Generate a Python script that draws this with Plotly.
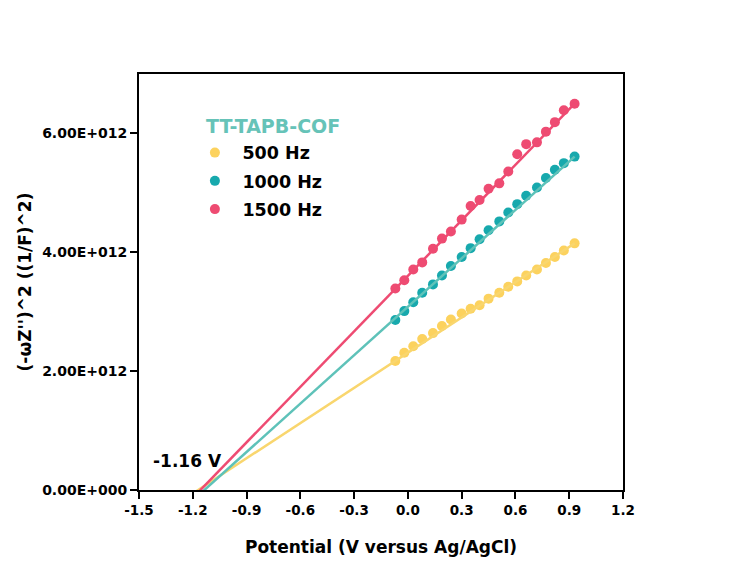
import plotly.graph_objects as go

# Potential (V vs Ag/AgCl)
potential = [-0.07, -0.02, 0.03, 0.08, 0.14, 0.19, 0.24, 0.30, 0.35, 0.40,
             0.45, 0.51, 0.56, 0.61, 0.66, 0.72, 0.77, 0.82, 0.87, 0.93]

# (-wZ'')^2 values in units of 1E12
y_500 = [2.17, 2.31, 2.42, 2.54, 2.64, 2.76, 2.87, 2.97, 3.05, 3.11,
         3.22, 3.32, 3.42, 3.51, 3.61, 3.71, 3.82, 3.92, 4.03, 4.15]
y_1000 = [2.86, 3.01, 3.16, 3.32, 3.46, 3.61, 3.77, 3.92, 4.07, 4.22,
          4.37, 4.52, 4.67, 4.81, 4.95, 5.09, 5.25, 5.39, 5.50, 5.61]
y_1500 = [3.39, 3.53, 3.71, 3.83, 4.06, 4.23, 4.35, 4.55, 4.78, 4.88,
          5.07, 5.16, 5.36, 5.65, 5.82, 5.85, 6.03, 6.19, 6.39, 6.50]

# linear fit line endpoints (x, y in 1E12)
fit_x_500 = [-1.18, 0.93]
fit_y_500 = [-0.02, 4.15]
fit_x_1000 = [-1.15, 0.93]
fit_y_1000 = [-0.04, 5.61]
fit_x_1500 = [-1.17, 0.93]
fit_y_1500 = [-0.04, 6.50]

series_names = ["500 Hz", "1000 Hz", "1500 Hz"]
legend_title = "TT-TAPB-COF"
x_ticks = [-1.5, -1.2, -0.9, -0.6, -0.3, 0.0, 0.3, 0.6, 0.9, 1.2]
x_tick_text = ["-1.5", "-1.2", "-0.9", "-0.6", "-0.3", "0.0", "0.3", "0.6", "0.9", "1.2"]
y_ticks = [0, 2, 4, 6]
y_tick_text = ["0.00E+000", "2.00E+012", "4.00E+012", "6.00E+012"]

SCALE = 1e12
marker_colors = ["#FCD25E", "#17A9AD", "#EE4B72"]
line_colors = ["#F9D66E", "#5EC2B9", "#EE4B72"]
FONT = "'DejaVu Sans', Arial, sans-serif"

fig = go.Figure()
ys = [y_500, y_1000, y_1500]
fits = [(fit_x_500, fit_y_500), (fit_x_1000, fit_y_1000), (fit_x_1500, fit_y_1500)]

for name, y, c in zip(series_names, ys, marker_colors):
    fig.add_trace(go.Scatter(
        x=potential, y=[v * SCALE for v in y], mode="markers", name=name,
        legendgroup=name,
        marker=dict(color=c, size=10, line=dict(width=0)),
    ))
for (fx, fy), c in zip(fits, line_colors):
    fig.add_trace(go.Scatter(
        x=fx, y=[v * SCALE for v in fy], mode="lines", showlegend=False,
        line=dict(color=c, width=2.5), hoverinfo="skip",
    ))

axis_common = dict(
    showline=True, linecolor="black", linewidth=2, mirror=True,
    ticks="outside", ticklen=7, tickwidth=2, tickcolor="black",
    showgrid=False, zeroline=False,
)

fig.update_xaxes(
    range=[-1.5, 1.2], tickvals=x_ticks, ticktext=x_tick_text,
    tickfont=dict(family=FONT, size=13.5, color="black", weight="bold"),
    title=dict(text="Potential (V versus Ag/AgCl)", standoff=24,
               font=dict(family=FONT, size=17, color="black", weight="bold")),
    **axis_common,
)
fig.update_yaxes(
    range=[0, 7 * SCALE], tickvals=[v * SCALE for v in y_ticks], ticktext=y_tick_text,
    tickfont=dict(family=FONT, size=14, color="black", weight="bold"),
    title=dict(text="(-\u03c9Z'')^2 ((1/F)^2)", standoff=6,
               font=dict(family=FONT, size=17, color="black", weight="bold")),
    **axis_common,
)

fig.update_layout(
    width=750, height=581,
    margin=dict(l=131, r=135, t=66, b=99),
    paper_bgcolor="white", plot_bgcolor="white",
    font=dict(family=FONT),
    legend=dict(
        x=0.1, y=0.854, xanchor="left", yanchor="top",
        bgcolor="rgba(0,0,0,0)",
        font=dict(family=FONT, size=17.5, color="black", weight="bold"),
        itemwidth=45, tracegroupgap=2.5,
    ),
    annotations=[
        dict(x=-1.23, y=0.49 * SCALE, xref="x", yref="y", text="-1.16 V",
             showarrow=False, xanchor="center", yanchor="middle",
             font=dict(family=FONT, size=17, color="black", weight="bold")),
        dict(x=-1.14, y=6.13 * SCALE, xref="x", yref="y", text=legend_title,
             showarrow=False, xanchor="left", yanchor="middle",
             font=dict(family=FONT, size=19, color="#66C3B8", weight="bold")),
    ],
)

fig.write_html("out.html")
